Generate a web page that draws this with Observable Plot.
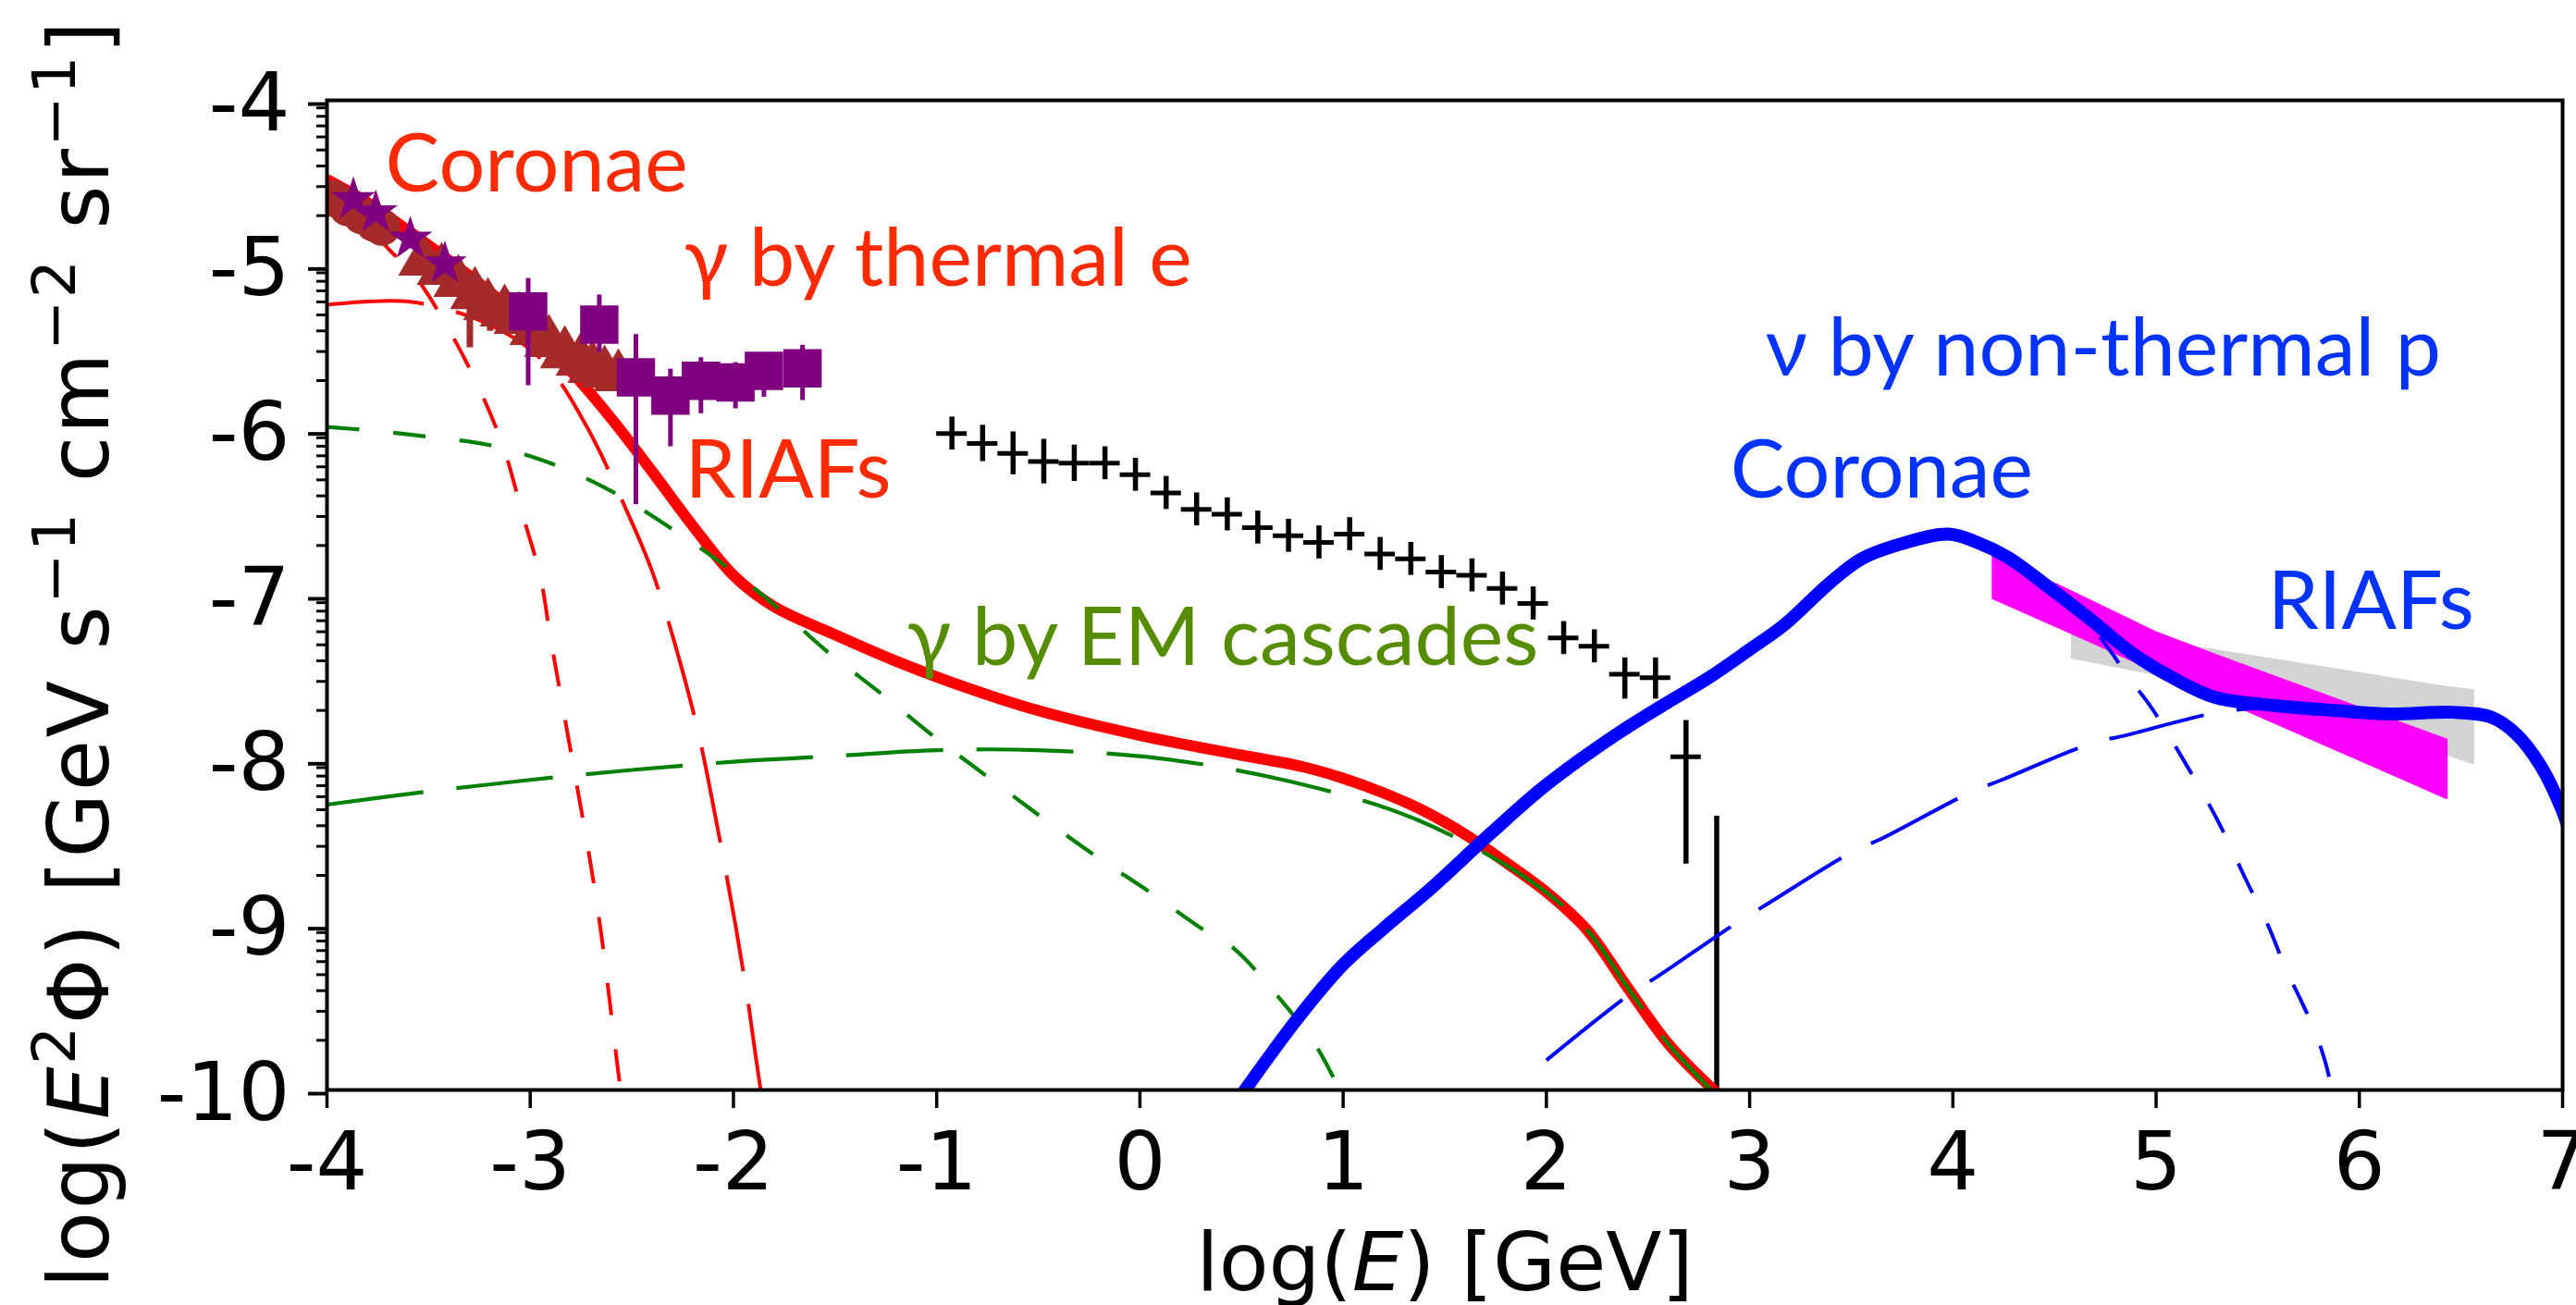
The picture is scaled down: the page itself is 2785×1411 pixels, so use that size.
<!DOCTYPE html>
<html>
<head>
<meta charset="utf-8">
<script src="https://cdn.jsdelivr.net/npm/d3@7"></script>
<script src="https://cdn.jsdelivr.net/npm/@observablehq/plot@0.6"></script>
<style>
html, body { margin: 0; padding: 0; background: #ffffff; }
#chart svg { display: block; }
</style>
</head>
<body>
<div id="chart"></div>
<script>
// ---------------- axis ticks ----------------
const xTicks = [-4, -3, -2, -1, 0, 1, 2, 3, 4, 5, 6, 7];
const yTicks = [-10, -9, -8, -7, -6, -5, -4];

// ---------------- model curves: [log E, log E^2 Phi] ----------------
// total gamma (thick red)
const gammaTotal = [[-4.0,-4.48],[-3.8,-4.62],[-3.6,-4.79],[-3.4,-4.97],[-3.2,-5.16],[-3.0,-5.38],[-2.8,-5.64],[-2.6,-5.93],[-2.4,-6.25],[-2.2,-6.58],[-2.0,-6.88],[-1.8,-7.07],[-1.5,-7.24],[-1.2,-7.40],[-0.9,-7.54],[-0.5,-7.70],[0.0,-7.85],[0.5,-7.97],[0.8,-8.04],[1.0,-8.11],[1.2,-8.20],[1.4,-8.31],[1.6,-8.45],[1.8,-8.62],[2.0,-8.80],[2.2,-9.03],[2.4,-9.38],[2.6,-9.72],[2.84,-10.02]];
// thermal e gamma, coronae (red short dash)
const gammaThermalCoronae = [[-4.0,-4.52],[-3.85,-4.70],[-3.69,-4.91],[-3.57,-5.06],[-3.40,-5.39],[-3.25,-5.75],[-3.13,-6.11],[-3.04,-6.50],[-2.95,-6.89],[-2.90,-7.26],[-2.80,-7.95],[-2.70,-8.65],[-2.65,-9.06],[-2.61,-9.45],[-2.57,-9.86],[-2.55,-10.05]];
// thermal e gamma, RIAFs (red long dash)
const gammaThermalRIAF = [[-4.0,-5.24],[-3.8,-5.22],[-3.6,-5.22],[-3.4,-5.27],[-3.2,-5.36],[-3.0,-5.51],[-2.87,-5.68],[-2.73,-5.96],[-2.65,-6.15],[-2.55,-6.42],[-2.45,-6.70],[-2.39,-6.89],[-2.28,-7.33],[-2.17,-7.85],[-2.08,-8.40],[-1.99,-9.00],[-1.93,-9.45],[-1.89,-9.80],[-1.86,-10.05]];
// EM cascade gamma, coronae (green short dash)
const gammaCascadeCoronae = [[-4.0,-5.98],[-3.8,-6.00],[-3.5,-6.04],[-3.2,-6.09],[-2.9,-6.20],[-2.6,-6.37],[-2.3,-6.60],[-2.0,-6.86],[-1.76,-7.10],[-1.55,-7.33],[-1.26,-7.61],[-1.0,-7.87],[-0.74,-8.11],[-0.48,-8.35],[-0.22,-8.58],[0.06,-8.81],[0.29,-9.01],[0.46,-9.14],[0.67,-9.42],[0.87,-9.74],[0.99,-10.02]];
// EM cascade gamma, RIAFs (green long dash)
const gammaCascadeRIAF = [[-4.0,-8.27],[-3.5,-8.19],[-3.0,-8.12],[-2.5,-8.06],[-2.0,-8.01],[-1.5,-7.975],[-1.0,-7.94],[-0.5,-7.94],[0.1,-7.99],[0.74,-8.13],[1.36,-8.36],[1.93,-8.74],[2.2,-9.03],[2.4,-9.38],[2.6,-9.72],[2.85,-10.05]];
// total neutrino (thick blue)
const nuTotal = [[0.50,-10.03],[0.78,-9.56],[1.0,-9.24],[1.2,-9.02],[1.43,-8.78],[1.73,-8.44],[2.0,-8.15],[2.35,-7.84],[2.57,-7.67],[2.8,-7.50],[3.0,-7.33],[3.17,-7.18],[3.39,-6.93],[3.55,-6.78],[3.77,-6.68],[3.98,-6.63],[4.12,-6.68],[4.27,-6.77],[4.47,-6.95],[4.68,-7.15],[4.88,-7.35],[5.08,-7.50],[5.29,-7.62],[5.59,-7.67],[5.89,-7.70],[6.15,-7.72],[6.46,-7.71],[6.65,-7.74],[6.77,-7.84],[6.89,-8.03],[7.0,-8.31],[7.05,-8.5]];
// neutrino, coronae (blue short dash)
const nuCoronae = [[2.0,-8.15],[2.35,-7.84],[2.8,-7.50],[3.17,-7.18],[3.39,-6.93],[3.55,-6.78],[3.77,-6.68],[3.98,-6.63],[4.12,-6.68],[4.27,-6.77],[4.47,-6.95],[4.62,-7.10],[4.77,-7.33],[4.87,-7.51],[4.97,-7.67],[5.14,-8.01],[5.30,-8.36],[5.44,-8.72],[5.55,-9.00],[5.64,-9.27],[5.71,-9.45],[5.78,-9.64],[5.83,-9.82],[5.87,-10.02]];
// neutrino, RIAFs (blue long dash)
const nuRIAF = [[2.0,-9.82],[2.41,-9.42],[2.55,-9.31],[2.92,-9.00],[3.09,-8.87],[3.50,-8.56],[3.66,-8.47],[4.08,-8.20],[4.24,-8.12],[4.68,-7.90],[4.85,-7.85],[5.31,-7.71],[5.60,-7.68],[5.90,-7.70],[6.15,-7.72],[6.46,-7.71],[6.65,-7.74],[6.77,-7.84],[6.89,-8.03],[7.0,-8.31],[7.05,-8.5]];

// ---------------- IceCube bands: [log E, upper, lower] ----------------
const magentaBand = [[4.20,-6.77,-7.02],[4.53,-6.95,-7.20],[5.00,-7.23,-7.46],[5.30,-7.37,-7.62],[6.43,-7.88,-8.23]];
const greyBand = [[4.59,-7.20,-7.38],[4.92,-7.27,-7.46],[5.30,-7.34,-7.56],[6.42,-7.56,-7.96],[6.56,-7.58,-8.02]];

// ---------------- Fermi-LAT IGRB (black crosses) ----------------
const fermiX  = [-0.925,-0.774,-0.624,-0.473,-0.323,-0.172,-0.022,0.129,0.279,0.430,0.580,0.731,0.881,1.032,1.182,1.333,1.483,1.634,1.784,1.935,2.085,2.236,2.386,2.537,2.687,2.838];
const fermiY  = [-6.02,-6.08,-6.14,-6.19,-6.20,-6.20,-6.27,-6.38,-6.48,-6.51,-6.59,-6.64,-6.68,-6.63,-6.75,-6.78,-6.86,-6.88,-6.96,-7.05,-7.26,-7.31,-7.48,-7.50,-7.98,null];
const fermiLo = [-6.12,-6.19,-6.27,-6.325,-6.31,-6.30,-6.37,-6.48,-6.58,-6.61,-6.69,-6.74,-6.78,-6.73,-6.85,-6.88,-6.96,-6.98,-7.06,-7.15,-7.36,-7.41,-7.63,-7.63,-8.63,-10.3];
const fermiHi = [-5.92,-5.97,-6.01,-6.055,-6.09,-6.10,-6.17,-6.28,-6.38,-6.41,-6.49,-6.54,-6.58,-6.53,-6.65,-6.68,-6.76,-6.78,-6.86,-6.95,-7.16,-7.21,-7.38,-7.38,-7.76,-8.34];
const fermiHalfBin = 0.075;

// ---------------- MeV data ----------------
const brownCircles = [[-3.97,-4.595],[-3.90,-4.65],[-3.83,-4.70],[-3.77,-4.745],[-3.73,-4.77]];
const brownTriangles = [[-3.527,-4.976],[-3.436,-5.032],[-3.354,-5.105],[-3.272,-5.178],[-3.208,-5.245],[-3.126,-5.284],[-3.058,-5.329],[-2.980,-5.396],[-2.908,-5.469],[-2.830,-5.537],[-2.753,-5.582],[-2.694,-5.626],[-2.634,-5.655],[-2.566,-5.677]];
const brownErrors = [[-3.297,-5.50,-5.245],[-3.197,-5.40,-5.28]];
const purpleStars = [[-3.87,-4.60],[-3.76,-4.68],[-3.59,-4.84],[-3.42,-4.99]];
// [log E, value, lower, upper]
const purpleSquares = [[-3.01,-5.28,-5.73,-5.08],[-2.66,-5.36,-5.53,-5.18],[-2.48,-5.68,-6.45,-5.42],[-2.31,-5.79,-6.10,-5.63],[-2.16,-5.70,-5.90,-5.56],[-1.99,-5.71,-5.87,-5.59],[-1.85,-5.64,-5.80,-5.55],[-1.66,-5.625,-5.82,-5.485]];

// ---------------- text ----------------
const annotationTexts = ["Coronae", "γ by thermal e", "RIAFs", "γ by EM cascades", "ν by non-thermal p", "Coronae", "RIAFs"];
const xLabel = "log(E) [GeV]";
const yLabel = "log(E2Φ) [GeV s-1 cm-2 sr-1]";

// minor (log-like) ticks on y axis
const yMinor = yTicks.slice(0, -1).flatMap(n => d3.range(2, 10).map(k => n + Math.log10(k)));

const fermi = fermiX.map((x, i) => ({x, y: fermiY[i], lo: fermiLo[i], hi: fermiHi[i]}));

const RED = "#ff0000", GREEN = "#008000", BLUE = "#0000ff";
const redText = "#ff2a00", greenText = "#558c00", blueText = "#0033ff";
const annoFont = "Lato, 'Noto Sans', sans-serif";
const annoSize = 88;
const SHORT = "35,37", LONG = "105,36";

const line = (data, stroke, width, dash) => Plot.line(data, {
  x: d => d[0], y: d => d[1], stroke, strokeWidth: width,
  strokeDasharray: dash, curve: "catmull-rom", clip: true, strokeLinecap: "butt"
});
const anno = (i, x, y, fill) => Plot.text([annotationTexts[i]], {
  x: () => x, y: () => y, text: d => d, fill, fontFamily: annoFont, fontSize: annoSize,
  textAnchor: "start", lineAnchor: "bottom"
});

const svg = Plot.plot({
  width: 2785,
  height: 1411,
  marginLeft: 353,
  marginRight: 15,
  marginTop: 108,
  marginBottom: 233,
  style: {fontFamily: "'DejaVu Sans', sans-serif", fontSize: "88px", background: "#ffffff", color: "#000"},
  x: {domain: [-4, 7]},
  y: {domain: [-10, -4]},
  marks: [
    // IceCube bands
    Plot.areaY(greyBand, {x: d => d[0], y1: d => d[1], y2: d => d[2], fill: "#d3d3d3", stroke: "#d3d3d3", strokeWidth: 3, strokeLinejoin: "round", clip: true}),
    Plot.areaY(magentaBand, {x: d => d[0], y1: d => d[1], y2: d => d[2], fill: "#ff00ff", stroke: "#ff00ff", strokeWidth: 3, strokeLinejoin: "round", clip: true}),
    // Fermi IGRB
    Plot.ruleX(fermi, {x: "x", y1: "lo", y2: "hi", stroke: "#000", strokeWidth: 5.5, clip: true}),
    Plot.ruleY(fermi.filter(d => d.y != null), {y: "y", x1: d => d.x - fermiHalfBin, x2: d => d.x + fermiHalfBin, stroke: "#000", strokeWidth: 5, clip: true}),
    // gamma-ray models
    line(gammaTotal, RED, 12),
    line(gammaThermalCoronae, RED, 4, SHORT),
    line(gammaThermalRIAF, RED, 4, LONG),
    line(gammaCascadeCoronae, GREEN, 4.2, SHORT),
    line(gammaCascadeRIAF, GREEN, 4.2, LONG),
    // neutrino models
    line(nuCoronae, BLUE, 4, SHORT),
    line(nuRIAF, BLUE, 4, LONG),
    line(nuTotal, BLUE, 14),
    // MeV data
    Plot.ruleX(brownErrors, {x: d => d[0], y1: d => d[1], y2: d => d[2], stroke: "#a52a2a", strokeWidth: 7, clip: true}),
    Plot.dot(brownCircles, {x: d => d[0], y: d => d[1], r: 20, fill: "#a52a2a", clip: true}),
    Plot.dot(brownTriangles, {x: d => d[0], y: d => d[1], r: 20, symbol: "triangle", fill: "#a52a2a", clip: true}),
    Plot.ruleX(purpleSquares, {x: d => d[0], y1: d => d[2], y2: d => d[3], stroke: "#800080", strokeWidth: 5, clip: true}),
    Plot.dot(purpleSquares, {x: d => d[0], y: d => d[1], r: 23.4, symbol: "square", fill: "#800080", clip: true}),
    Plot.dot(purpleStars, {x: d => d[0], y: d => d[1], r: 15, symbol: "star", fill: "#800080", clip: true}),
    // annotations
    anno(0, -3.713, -4.55, redText),
    anno(1, -2.243, -5.122, redText),
    anno(2, -2.239, -6.406, redText),
    anno(3, -1.146, -7.421, greenText),
    anno(4, 3.078, -5.666, blueText),
    anno(5, 2.905, -6.406, blueText),
    anno(6, 5.549, -7.202, blueText),
    // axes
    Plot.axisX({ticks: xTicks, tickSize: 20, tickPadding: 25, tickFormat: d => String(d), strokeWidth: 3.5, label: null}),
    Plot.axisY({ticks: yTicks, tickSize: 20, tickPadding: 20, tickFormat: d => String(d), strokeWidth: 4, label: null, dy: 4}),
    Plot.axisY({ticks: yMinor, tickSize: 11, tickFormat: () => "", strokeWidth: 3, label: null}),
    Plot.text([xLabel], {frameAnchor: "bottom", dy: 216, lineAnchor: "bottom", textAnchor: "middle", fontSize: 88, fontFamily: "'DejaVu Sans', sans-serif"}),
    Plot.text([yLabel], {frameAnchor: "left", rotate: -90, dx: -237, dy: 63, lineAnchor: "bottom", textAnchor: "middle", fontSize: 90, fontFamily: "'DejaVu Sans', sans-serif"}),
    Plot.frame({stroke: "#000", strokeWidth: 4})
  ]
});

// rich text (italic E, superscripts) for axis labels
function setRich(plain, parts, size, spacing) {
  d3.select(svg).selectAll("text").filter(function() { return this.textContent === plain; }).each(function() {
    const t = d3.select(this);
    t.text(null);
    if (spacing) t.attr("letter-spacing", spacing);
    let shift = 0;
    for (const p of parts) {
      const ts = t.append("tspan").text(p.t);
      if (p.it) ts.attr("font-style", "italic");
      const target = p.sup ? -0.40 * size : 0;
      if (target !== shift) { ts.attr("dy", target - shift); shift = target; }
      if (p.sup) ts.attr("font-size", 0.72 * size);
    }
  });
}
setRich(xLabel, [{t: "log("}, {t: "E", it: true}, {t: ") [GeV]"}], 88, 0);
setRich(yLabel, [{t: "log("}, {t: "E", it: true}, {t: "2", sup: true}, {t: "Φ) [GeV s"}, {t: "−1", sup: true},
                 {t: " cm"}, {t: "−2", sup: true}, {t: " sr"}, {t: "−1", sup: true}, {t: "]"}], 90, 2.5);

document.getElementById("chart").appendChild(svg);
</script>
</body>
</html>
